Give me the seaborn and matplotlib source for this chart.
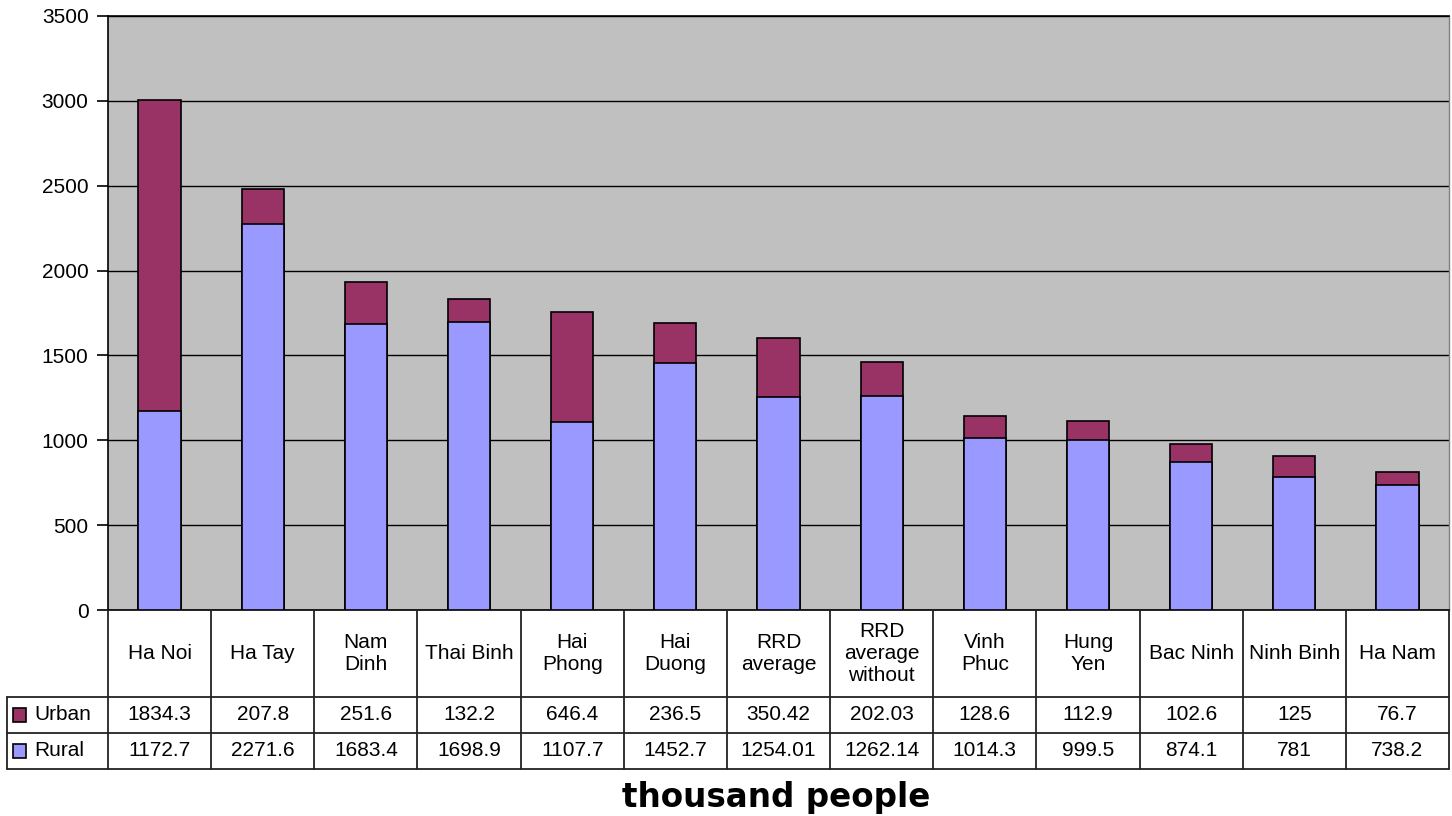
import matplotlib
matplotlib.use("Agg")
import matplotlib.pyplot as plt
import seaborn as sns
import pandas as pd
from matplotlib.patches import Rectangle

# Population of the Red River Delta provinces (thousand people)
provinces = ["Ha Noi", "Ha Tay", "Nam Dinh", "Thai Binh", "Hai Phong", "Hai Duong",
             "RRD average", "RRD average without", "Vinh Phuc", "Hung Yen",
             "Bac Ninh", "Ninh Binh", "Ha Nam"]
province_labels = ["Ha Noi", "Ha Tay", "Nam\nDinh", "Thai Binh", "Hai\nPhong", "Hai\nDuong",
                   "RRD\naverage", "RRD\naverage\nwithout", "Vinh\nPhuc", "Hung\nYen",
                   "Bac Ninh", "Ninh Binh", "Ha Nam"]
urban = [1834.3, 207.8, 251.6, 132.2, 646.4, 236.5, 350.42, 202.03, 128.6, 112.9, 102.6, 125, 76.7]
rural = [1172.7, 2271.6, 1683.4, 1698.9, 1107.7, 1452.7, 1254.01, 1262.14, 1014.3, 999.5, 874.1, 781, 738.2]
urban_text = ["1834.3", "207.8", "251.6", "132.2", "646.4", "236.5", "350.42", "202.03",
              "128.6", "112.9", "102.6", "125", "76.7"]
rural_text = ["1172.7", "2271.6", "1683.4", "1698.9", "1107.7", "1452.7", "1254.01", "1262.14",
              "1014.3", "999.5", "874.1", "781", "738.2"]
y_ticks = [0, 500, 1000, 1500, 2000, 2500, 3000, 3500]

URBAN_C = "#993366"
RURAL_C = "#9999FF"
PLOT_BG = "#C0C0C0"

sns.set_style("white")
plt.rcParams["font.family"] = ["Liberation Sans", "DejaVu Sans"]
plt.rcParams["text.color"] = "black"
plt.rcParams["ytick.color"] = "black"
plt.rcParams["ytick.labelcolor"] = "black"

df = pd.DataFrame({"province": provinces, "urban": urban, "rural": rural})
df["total"] = df["urban"] + df["rural"]

W, H = 1452, 816
fig = plt.figure(figsize=(W / 100, H / 100), dpi=100)
fig.patch.set_facecolor("white")

# main plot area (pixel box 108..1449 x 16..610)
ax = fig.add_axes([108 / W, 1 - 610 / H, (1449 - 108) / W, (610 - 16) / H])
ax.set_facecolor(PLOT_BG)

# stacked bars: total (urban on top) first, rural drawn over it
sns.barplot(data=df, x="province", y="total", color=URBAN_C, width=0.41,
            edgecolor="black", linewidth=1.2, saturation=1, ax=ax, zorder=3)
sns.barplot(data=df, x="province", y="rural", color=RURAL_C, width=0.41,
            edgecolor="black", linewidth=1.2, saturation=1, ax=ax, zorder=4)

fs = 15
ax.set_xlim(-0.5, len(provinces) - 0.5)
ax.set_ylim(0, 3500)
ax.set_yticks(y_ticks)
ax.set_yticklabels([str(v) for v in y_ticks], fontsize=fs, color="black")
ax.yaxis.grid(True, color="black", linewidth=1.0, zorder=1)
ax.set_axisbelow(True)
ax.set_xticks([])
ax.set_xlabel("")
ax.set_ylabel("")
ax.tick_params(axis="y", direction="out", length=8, width=1.2, color="black", pad=6, left=True)
for side in ["left", "bottom", "top"]:
    ax.spines[side].set_color("black")
    ax.spines[side].set_linewidth(1.2)
ax.spines["right"].set_color("#808080")
ax.spines["right"].set_linewidth(1.0)

# data table below the plot (pixel box 610..769)
tab = fig.add_axes([108 / W, 1 - 769 / H, (1449 - 108) / W, (769 - 610) / H])
tab.set_xlim(-0.5, len(provinces) - 0.5)
tab.set_ylim(159, 0)
tab.axis("off")

unit = len(provinces) / (1449 - 108)          # data units per pixel
x_left = -0.5 - (108 - 7) * unit             # legend-key column left edge
line_kw = dict(color="#222222", linewidth=1.3, clip_on=False)

n = len(provinces)
for i in range(n + 1):
    tab.plot([i - 0.5, i - 0.5], [0, 159], **line_kw)
tab.plot([x_left, x_left], [87, 159], **line_kw)
for yy in (87, 123, 159):
    tab.plot([x_left, n - 0.5], [yy, yy], **line_kw)

for i, lab in enumerate(province_labels):
    tab.text(i, 43.5, lab, ha="center", va="center", fontsize=fs, linespacing=1.2)
    tab.text(i, 105, urban_text[i], ha="center", va="center", fontsize=fs)
    tab.text(i, 141, rural_text[i], ha="center", va="center", fontsize=fs)

# legend keys inside the table
for yc, col, name in ((105, URBAN_C, "Urban"), (141, RURAL_C, "Rural")):
    tab.add_patch(Rectangle((x_left + 6 * unit, yc - 7), 13 * unit, 14, facecolor=col,
                            edgecolor="black", linewidth=1.2, clip_on=False))
    tab.text(x_left + 27 * unit, yc, name, ha="left", va="center", fontsize=fs)

fig.text(776 / W, 1 - 797 / H, "thousand people", ha="center", va="center",
         fontsize=23.5, fontweight="bold", family=["DejaVu Sans"])

fig.savefig("out.png", dpi=100, facecolor="white")
